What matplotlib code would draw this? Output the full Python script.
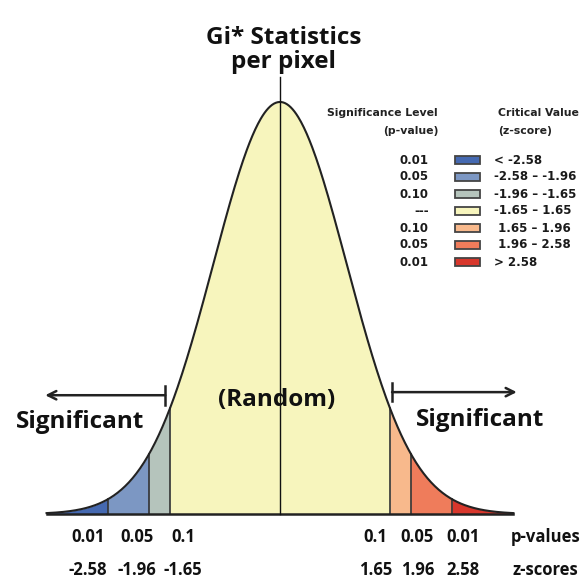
import numpy as np
import matplotlib.pyplot as plt
from matplotlib.patches import Rectangle

# critical z values that split the curve into bands
z_bounds = [-3.5, -2.58, -1.96, -1.65, 1.65, 1.96, 2.58, 3.5]
band_colors = ["#4569b1", "#7c97c3", "#b5c4bc", "#f7f5bd", "#f8b98c", "#ef7c5b", "#d8372c"]

# legend table
legend_p = ["0.01", "0.05", "0.10", "---", "0.10", "0.05", "0.01"]
legend_z = ["< -2.58", "-2.58 \u2013 -1.96", "-1.96 \u2013 -1.65", "-1.65 \u2013 1.65",
            " 1.65 \u2013 1.96", " 1.96 \u2013 2.58", "> 2.58"]

# bottom labels
left_p = ["0.01", "0.05", "0.1"]
left_z = ["-2.58", "-1.96", "-1.65"]
right_p = ["0.1", "0.05", "0.01"]
right_z = ["1.65", "1.96", "2.58"]
left_lab_x = [-2.88, -2.15, -1.45]
right_lab_x = [1.43, 2.06, 2.74]

BOLD = ["Open Sans", "DejaVu Sans"]


def pdf(z):
    return np.exp(-z ** 2 / 2) / np.sqrt(2 * np.pi)


def main():
    fig = plt.figure(figsize=(5.88, 5.81), dpi=100)
    ax = fig.add_axes([0, 0, 1, 1])
    # pixel mapping: centre at x=280, 66.7 px per z unit; baseline at y=514
    ax.set_xlim(-280 / 66.7, 308 / 66.7)
    ax.set_ylim(-67 / 1032.8, 514 / 1032.8)
    ax.axis("off")

    # coloured bands under the curve
    for i, c in enumerate(band_colors):
        zz = np.linspace(z_bounds[i], z_bounds[i + 1], 200)
        ax.fill_between(zz, 0, pdf(zz), color=c, lw=0)
    for b in z_bounds[1:-1]:
        ax.plot([b, b], [0, pdf(b)], color="#333333", lw=1.2)

    zz = np.linspace(z_bounds[0], z_bounds[-1], 500)
    ax.plot(zz, pdf(zz), color="#222222", lw=1.5)
    ax.plot([z_bounds[0], z_bounds[-1]], [0, 0], color="#222222", lw=1.8)
    ax.plot([0, 0], [0, 437 / 1032.8], color="#111111", lw=1.0)

    big = dict(fontsize=17.5, fontweight="bold", family=BOLD, color="#111111")
    ax.text(0.05, 0.449, "Gi* Statistics\nper pixel", ha="center", va="center",
            linespacing=1.0, **big)
    ax.text(-0.05, 0.110, "(Random)", ha="center", va="center", **big)
    ax.text(-3.0, 0.089, "Significant", ha="center", va="center", **big)
    ax.text(3.0, 0.091, "Significant", ha="center", va="center", **big)

    arrow_kw = dict(arrowstyle="->,head_length=0.6,head_width=0.3",
                    color="#222222", lw=1.8, shrinkA=0, shrinkB=0)
    for x0, x1, y in [(-1.72, -3.52, 0.115), (1.68, 3.55, 0.118)]:
        ax.annotate("", xy=(x1, y), xytext=(x0, y), arrowprops=arrow_kw)
        ax.plot([x0, x0], [y - 0.009, y + 0.009], color="#222222", lw=1.8)

    # p-value / z-score labels under the axis
    yp, yz = -0.0223, -0.0543
    small = dict(ha="center", va="center", fontsize=12, fontweight="bold", family=BOLD, color="#111111")
    for x, p, z in zip(left_lab_x + right_lab_x, left_p + right_p, left_z + right_z):
        ax.text(x, yp, p, **small)
        ax.text(x, yz, z, **small)
    ax.text(3.98, yp, "p-values", **small)
    ax.text(3.98, yz, "z-scores", **small)

    # legend table (figure pixel coords, y from top)
    def fy(py):
        return 1 - py / 581

    head = dict(fontsize=7.8, fontweight="bold", color="#222222", va="center")
    fig.text(438 / 588, fy(113), "Significance Level", ha="right", **head)
    fig.text(438 / 588, fy(131), "(p-value)", ha="right", **head)
    fig.text(498 / 588, fy(113), "Critical Value", ha="left", **head)
    fig.text(498 / 588, fy(131), "(z-score)", ha="left", **head)
    row = dict(fontsize=8.5, fontweight="bold", color="#1a1a1a", va="center")
    for i, (p, z, c) in enumerate(zip(legend_p, legend_z, band_colors)):
        py = 160 + 17 * i
        fig.text(429 / 588, fy(py), p, ha="right", **row)
        fig.patches.append(Rectangle((455 / 588, fy(py + 4)), 25 / 588, 8 / 581,
                                     facecolor=c, edgecolor="#444444", lw=1.3,
                                     transform=fig.transFigure, figure=fig))
        fig.text(494 / 588, fy(py), z, ha="left", **row)

    fig.savefig("out.png", dpi=100, facecolor="white")


if __name__ == "__main__":
    main()
